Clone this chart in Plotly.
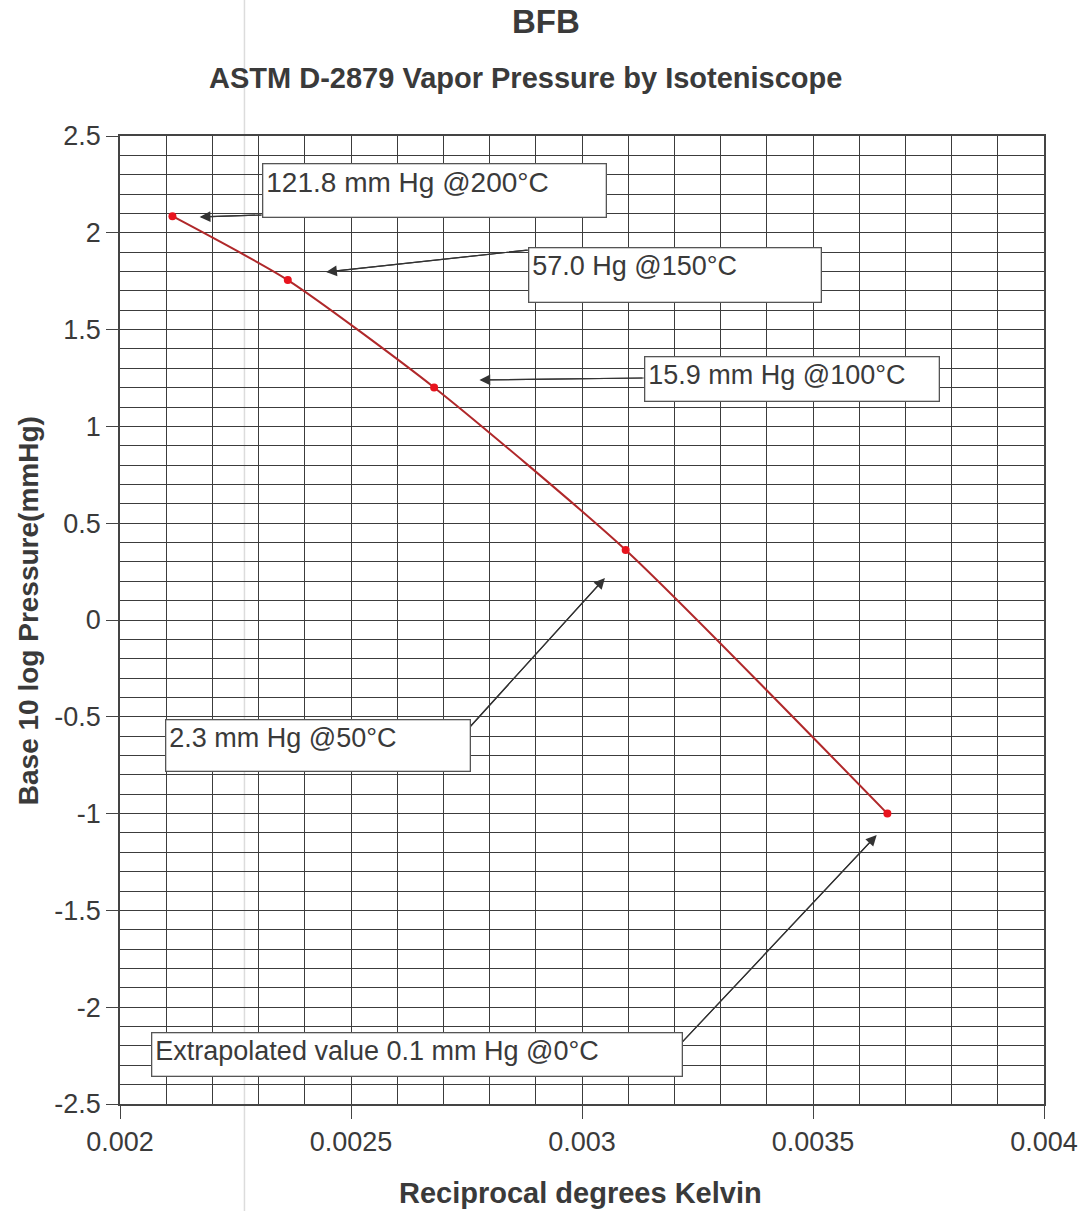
import plotly.graph_objects as go

# Data: reciprocal absolute temperature vs log10 vapor pressure
temps_c = [200, 150, 100, 50, 0]
recip_kelvin = [0.0021135, 0.0023632, 0.0026799, 0.0030945, 0.0036610]
log_pressure = [2.0856, 1.7559, 1.2014, 0.3617, -1.0]

x_ticks = [0.002, 0.0025, 0.003, 0.0035, 0.004]
x_tick_labels = ["0.002", "0.0025", "0.003", "0.0035", "0.004"]
y_ticks = [2.5, 2, 1.5, 1, 0.5, 0, -0.5, -1, -1.5, -2, -2.5]
y_tick_labels = ["2.5", "2", "1.5", "1", "0.5", "0", "-0.5", "-1", "-1.5", "-2", "-2.5"]

labels = ["121.8 mm Hg @200°C", "57.0 Hg @150°C", "15.9 mm Hg @100°C",
          "2.3 mm Hg @50°C", "Extrapolated value 0.1 mm Hg @0°C"]
# box top-left corners (data coords), outer box sizes (px)
box_x = [0.0023082, 0.0028836, 0.0031336, 0.002097, 0.0020668]
box_y = [2.3605, 1.9267, 1.3636, -0.5114, -2.1282]
box_w = [344, 293, 295, 305, 531]
box_h = [54, 55, 45, 52, 44]
label_size = [28, 27, 27, 27, 27]
# arrow tails & heads (data coords)
tail_x = [0.0023082, 0.0028836, 0.0031336, 0.002722, 0.0032112]
tail_y = [2.092, 1.911, 1.25, -0.6457, -2.195]
head_x = [0.0021724, 0.0024461, 0.0027780, 0.0030496, 0.0036379]
head_y = [2.0816, 1.7975, 1.2397, 0.2169, -1.1105]

FONT = "Liberation Sans, Arial, sans-serif"
TXT = "#3a3a3a"
PAD = 3
BW = 1.3

fig = go.Figure()
fig.add_trace(go.Scatter(
    x=recip_kelvin, y=log_pressure, mode="lines+markers",
    line=dict(color="#b0282a", width=2, shape="spline", smoothing=0.6),
    marker=dict(color="#e8141e", size=8, symbol="circle"),
    showlegend=False, hoverinfo="x+y",
))

annotations = []
for i in range(len(labels)):
    annotations.append(dict(
        x=tail_x[i], y=tail_y[i], ax=head_x[i], ay=head_y[i],
        xref="x", yref="y", axref="x", ayref="y",
        text="", showarrow=True, arrowhead=0, arrowwidth=1.2,
        arrowcolor="#333333", standoff=0, startstandoff=0,
    ))
    annotations.append(dict(
        x=head_x[i], y=head_y[i], ax=tail_x[i], ay=tail_y[i],
        xref="x", yref="y", axref="x", ayref="y",
        text="", showarrow=True, arrowhead=2, arrowsize=1.8, arrowwidth=1.2,
        arrowcolor="#333333", standoff=0,
    ))
    annotations.append(dict(
        x=box_x[i], y=box_y[i], xref="x", yref="y",
        xanchor="left", yanchor="top", showarrow=False,
        text=labels[i], width=box_w[i] - 2 * PAD - 2, height=box_h[i] - 2 * PAD - 2,
        align="left", valign="top", borderpad=PAD,
        bgcolor="white", bordercolor="#555555", borderwidth=BW,
        font=dict(family=FONT, size=label_size[i], color=TXT),
    ))

annotations.append(dict(
    x=0.4386, y=1.0599, xref="paper", yref="paper", showarrow=False,
    text="<b>ASTM D-2879 Vapor Pressure by Isoteniscope</b>",
    font=dict(family=FONT, size=29, color=TXT), xanchor="center", yanchor="middle",
))
annotations.append(dict(
    x=0.498, y=-0.0915, xref="paper", yref="paper", showarrow=False,
    text="<b>Reciprocal degrees Kelvin</b>",
    font=dict(family=FONT, size=29, color=TXT), xanchor="center", yanchor="middle",
))
annotations.append(dict(
    x=-0.0997, y=0.510, xref="paper", yref="paper", showarrow=False,
    text="<b>Base 10 log Pressure(mmHg)</b>", textangle=-90,
    font=dict(family=FONT, size=28, color=TXT), xanchor="center", yanchor="middle",
))
annotations.append(dict(
    x=0.4612, y=1.1178, xref="paper", yref="paper", showarrow=False,
    text="<b>BFB</b>",
    font=dict(family=FONT, size=33, color=TXT), xanchor="center", yanchor="middle",
))

fig.update_layout(
    width=1090, height=1211,
    margin=dict(l=120, r=40, t=136, b=107),
    paper_bgcolor="white", plot_bgcolor="white",
    annotations=annotations,
    shapes=[dict(type="line", xref="paper", yref="paper",
                 x0=0.1347, x1=0.1347, y0=1.1405, y1=-0.1105,
                 line=dict(color="#dcdcdc", width=1.5), layer="below")],
)

fig.update_xaxes(
    range=[0.002, 0.004], tickvals=x_ticks, ticktext=x_tick_labels,
    ticks="outside", ticklen=13, tickcolor="#444", tickwidth=1.2,
    showline=True, linecolor="#444", linewidth=1.5, mirror=True,
    showgrid=True, gridcolor="#3c3c3c", gridwidth=1,
    minor=dict(dtick=0.0001, tick0=0.002, showgrid=True, gridcolor="#3c3c3c", gridwidth=1),
    zeroline=False,
    tickfont=dict(family=FONT, size=27, color=TXT),
)
fig.update_yaxes(
    range=[-2.5, 2.5], tickvals=y_ticks, ticktext=y_tick_labels,
    ticks="outside", ticklen=12, tickcolor="#444", tickwidth=1.2,
    showline=True, linecolor="#444", linewidth=1.5, mirror=True,
    showgrid=True, gridcolor="#3c3c3c", gridwidth=1,
    minor=dict(dtick=0.1, tick0=0, showgrid=True, gridcolor="#3c3c3c", gridwidth=1),
    zeroline=False,
    tickfont=dict(family=FONT, size=27, color=TXT),
)

fig.write_html(
    "out.html",
    config={"displayModeBar": False},
    post_script="document.body.style.margin='0';document.body.style.overflow='hidden';",
)
